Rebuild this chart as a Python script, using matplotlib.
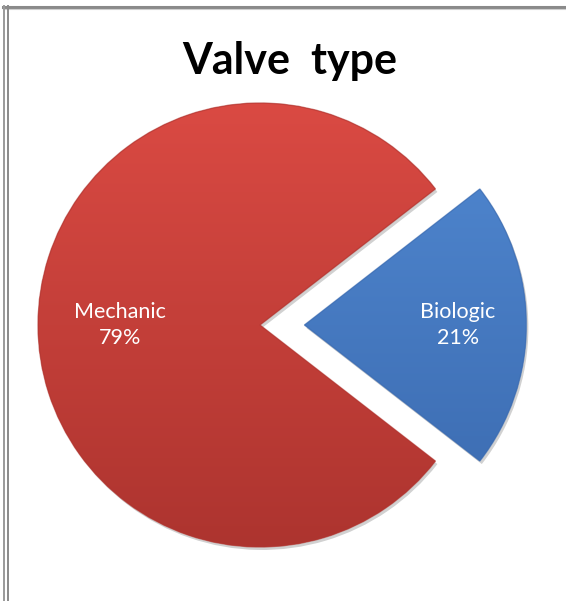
import matplotlib
matplotlib.use("Agg")
import matplotlib.pyplot as plt
import numpy as np
from matplotlib.colors import LinearSegmentedColormap
from matplotlib.lines import Line2D
import matplotlib.patches as mpatches

categories = ["Biologic", "Mechanic"]
values = [21, 79]
title = "Valve  type"

top_colors = ["#5189d2", "#da4a43"]
bottom_colors = ["#3a69ae", "#ad342f"]
label_dist = [0.69, 0.63]

W, H = 566, 601
fig = plt.figure(figsize=(W / 100, H / 100), dpi=100)
ax = fig.add_axes([0, 0, 1, 1])

radius = 222
center = (260, 276)
labels = [f"{c}\n{v}%" for c, v in zip(categories, values)]
start = -values[0] / sum(values) * 360 / 2
wedges, texts = ax.pie(values, labels=labels, radius=radius, center=center,
                       startangle=start, counterclock=True,
                       explode=[0.2 * radius, 0], colors=top_colors,
                       labeldistance=0.66, frame=True,
                       textprops=dict(color="white", fontsize=15.5,
                                      family="Lato", ha="center", va="center",
                                      linespacing=1.35))
ax.set_xlim(0, W)
ax.set_ylim(0, H)
ax.set_aspect("equal")
ax.axis("off")

# reposition labels along wedge bisector
for w, t, d in zip(wedges, texts, label_dist):
    th = np.deg2rad((w.theta1 + w.theta2) / 2)
    cx, cy = w.center
    t.set_position((cx + d * w.r * np.cos(th), cy + d * w.r * np.sin(th)))
    t.set_zorder(3)

# shadows and gradients
for w, tc, bc in zip(wedges, top_colors, bottom_colors):
    sh = mpatches.Wedge((w.center[0] + 2, w.center[1] - 3), w.r, w.theta1, w.theta2,
                        facecolor="#000000", alpha=0.18, edgecolor="none", zorder=0.5)
    ax.add_patch(sh)
    w.set_zorder(1)
    w.set_edgecolor("none")
    cmap = LinearSegmentedColormap.from_list("g", [bc, tc])
    grad = np.linspace(0, 1, 256).reshape(-1, 1)
    cx, cy = w.center
    im = ax.imshow(grad, cmap=cmap, origin="lower", aspect="auto",
                   extent=(cx - w.r, cx + w.r, cy - w.r, cy + w.r), zorder=1.5)
    im.set_clip_path(w)
    edge = mpatches.Wedge(w.center, w.r, w.theta1, w.theta2, facecolor="none",
                          edgecolor=bc, linewidth=1.0, alpha=0.6, zorder=1.6)
    ax.add_patch(edge)

ax.set_xlim(0, W)
ax.set_ylim(0, H)

fig.text(290 / W, 1 - 61 / H, title, ha="center", va="center",
         fontsize=31, fontweight="bold", family="Lato", color="black")

# frame lines
fig.add_artist(Line2D([3 / W, 1], [1 - 7 / H, 1 - 7 / H], color="#8a8a8a", lw=2.2,
                      transform=fig.transFigure))
fig.add_artist(Line2D([3 / W, 1], [1 - 9 / H, 1 - 9 / H], color="#cfcfcf", lw=0.8,
                      transform=fig.transFigure))
for x, c in [(4, "#9a9a9a"), (8, "#8a8a8a")]:
    fig.add_artist(Line2D([x / W, x / W], [0, 1 - 6 / H], color=c, lw=1.4,
                          transform=fig.transFigure))

fig.savefig("out.png", dpi=100)
